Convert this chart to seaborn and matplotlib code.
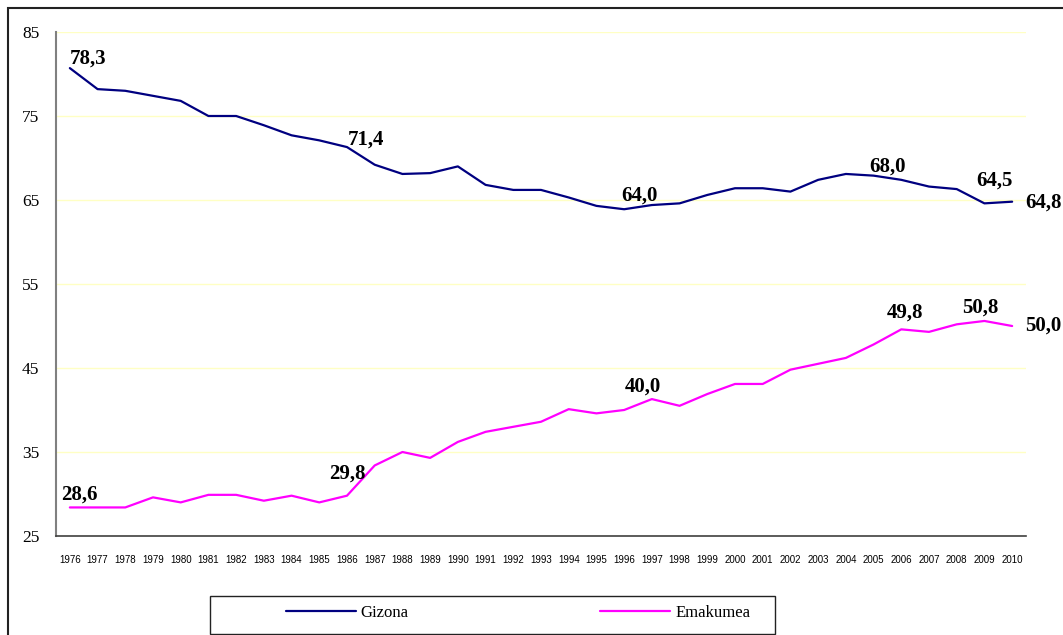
import pandas as pd
import seaborn as sns
import matplotlib.pyplot as plt
from matplotlib.patches import Rectangle

# datuak
years = list(range(1976, 2011))
gizona = [80.7, 78.2, 78.0, 77.4, 76.8, 75.0, 75.0, 73.9, 72.7, 72.1,
          71.3, 69.2, 68.1, 68.2, 69.0, 66.8, 66.2, 66.2, 65.3, 64.3,
          63.9, 64.4, 64.6, 65.6, 66.4, 66.4, 66.0, 67.4, 68.1, 67.9,
          67.4, 66.6, 66.3, 64.6, 64.8]
emakumea = [28.4, 28.4, 28.4, 29.6, 29.0, 29.9, 29.9, 29.2, 29.8, 29.0,
            29.8, 33.4, 35.0, 34.3, 36.2, 37.4, 38.0, 38.6, 40.1, 39.6,
            40.0, 41.3, 40.5, 41.9, 43.1, 43.1, 44.8, 45.5, 46.2, 47.8,
            49.6, 49.3, 50.2, 50.6, 50.0]
series_names = ["Gizona", "Emakumea"]
colors = {"Gizona": "#000080", "Emakumea": "#FF00FF"}
y_ticks = [25, 35, 45, 55, 65, 75, 85]

# etiketak: (serie, urtea, testua, dx, dy) -- dx/dy pixeletan
labels = [
    ("Gizona", 1976, "78,3", 18, 10),
    ("Gizona", 1986, "71,4", 19, 7),
    ("Gizona", 1996, "64,0", 15, 14),
    ("Gizona", 2005, "68,0", 14, 9),
    ("Gizona", 2009, "64,5", 10, 23),
    ("Gizona", 2010, "64,8", 31, -1),
    ("Emakumea", 1976, "28,6", 10, 13),
    ("Emakumea", 1986, "29,8", 0, 22),
    ("Emakumea", 1996, "40,0", 19, 23),
    ("Emakumea", 2006, "49,8", 4, 17),
    ("Emakumea", 2009, "50,8", -4, 13),
    ("Emakumea", 2010, "50,0", 31, 0),
]

df = pd.DataFrame({
    "urtea": years * 2,
    "balioa": gizona + emakumea,
    "sexua": ["Gizona"] * len(years) + ["Emakumea"] * len(years),
})

sns.set_style("white")
plt.rcParams["font.family"] = ["Liberation Serif", "DejaVu Serif"]
plt.rcParams["text.color"] = "black"
plt.rcParams["xtick.color"] = "black"
plt.rcParams["ytick.color"] = "black"

W, H = 1063, 635
fig = plt.figure(figsize=(W / 100, H / 100), dpi=100)
ax = fig.add_axes([56 / W, (H - 536) / H, (1026 - 56) / W, (536 - 32) / H])

sns.lineplot(data=df, x="urtea", y="balioa", hue="sexua", hue_order=series_names,
             palette=colors, linewidth=1.6, ax=ax, legend=False)

ax.set_xlim(1975.5, 2010.5)
ax.set_ylim(25, 85)
ax.set_yticks(y_ticks)
ax.set_xticks(years)
ax.set_xticklabels([str(y) for y in years], family="Liberation Sans", fontsize=7)
ax.set_xticks([y - 0.5 for y in years] + [2010.5], minor=True)
ax.tick_params(axis="x", which="major", length=0, pad=14)
ax.tick_params(axis="x", which="minor", length=4, width=1, color="#333333", direction="out")
ax.tick_params(axis="y", length=5, width=1, color="#333333", direction="out", labelsize=12.5, pad=7)
ax.set_xlabel("")
ax.set_ylabel("")

for yv in y_ticks:
    ax.axhline(yv, color="#FFFFC4", linewidth=1, zorder=0)

for s in ["top", "right"]:
    ax.spines[s].set_visible(False)
ax.spines["left"].set_color("#808080")
ax.spines["left"].set_linewidth(1.5)
ax.spines["bottom"].set_color("#404040")
ax.spines["bottom"].set_linewidth(1.2)

vals = {"Gizona": gizona, "Emakumea": emakumea}
for name, yr, txt, dx, dy in labels:
    ax.annotate(txt, xy=(yr, vals[name][years.index(yr)]), xytext=(dx, dy),
                textcoords="offset pixels", ha="center", va="center",
                fontsize=15, fontweight="bold", annotation_clip=False)

# legenda
handles = [plt.Line2D([], [], color=colors[n], linewidth=1.6) for n in series_names]
fig.legend(handles, series_names, loc="center", ncol=2, frameon=False,
           bbox_to_anchor=(518 / W, (H - 613) / H), fontsize=12,
           handlelength=4.2, handletextpad=0.3, columnspacing=11.5)
fig.patches.append(Rectangle((210 / W, 1 / H), (775 - 210) / W, (634 - 596) / H,
                             transform=fig.transFigure, fill=False,
                             edgecolor="#222222", linewidth=1))
# kanpoko markoa
fig.patches.append(Rectangle((8 / W, -0.1), 1.2, (H - 8) / H + 0.1,
                             transform=fig.transFigure, fill=False,
                             edgecolor="#222222", linewidth=1.5))

fig.savefig("out.png", dpi=100)
